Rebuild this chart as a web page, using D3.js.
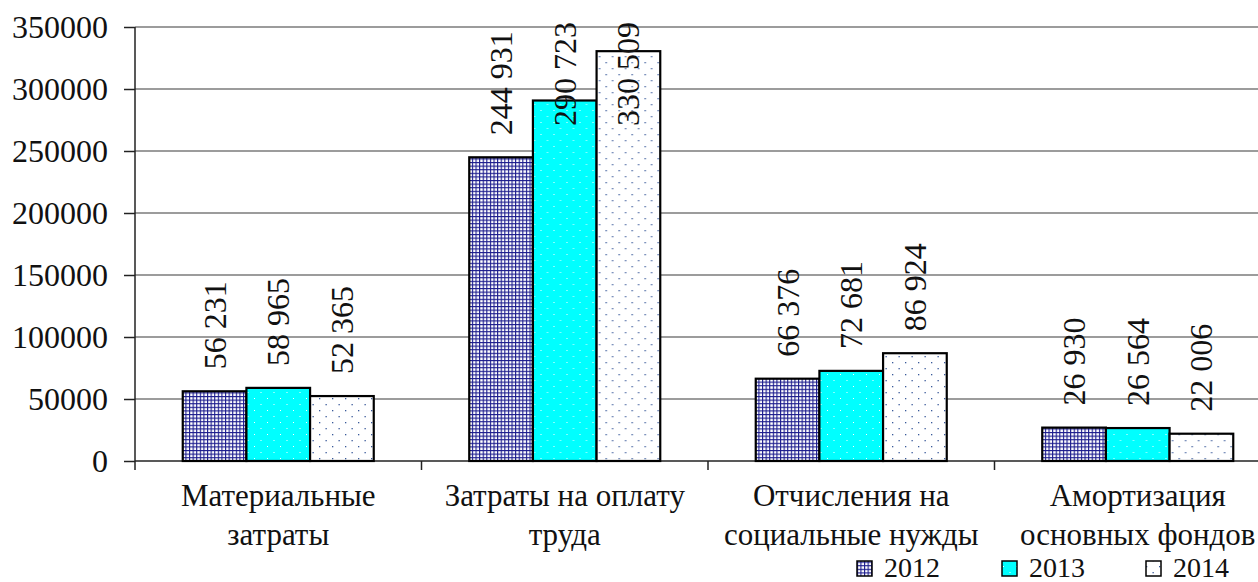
<!DOCTYPE html>
<html><head><meta charset="utf-8">
<script src="https://cdn.jsdelivr.net/npm/d3@7"></script>
<style>html,body{margin:0;padding:0;background:#fff;overflow:hidden}
svg text{font-family:"Liberation Serif","Times New Roman","DejaVu Serif",serif !important;}</style>
</head><body><svg id="c" width="1258" height="582"></svg>
<script>
const categories = [["Материальные","затраты"],["Затраты на оплату","труда"],["Отчисления на","социальные нужды"],["Амортизация","основных фондов"]];
const seriesNames = ["2012","2013","2014"];
const v2012 = [56231, 244931, 66376, 26930];
const v2013 = [58965, 290723, 72681, 26564];
const v2014 = [52365, 330509, 86924, 22006];
const yTicks = [0,50000,100000,150000,200000,250000,300000,350000];

const series = [v2012, v2013, v2014];
const svg = d3.select("#c");
const L = 135, T = 27, B = 461, R = 1281;

const defs = svg.append("defs");
const p1 = defs.append("pattern").attr("id","p2012").attr("patternUnits","userSpaceOnUse").attr("width",3.6).attr("height",3.6);
p1.append("rect").attr("width",3.6).attr("height",3.6).attr("fill","#fff");
p1.append("rect").attr("width",3.6).attr("height",1.1).attr("fill","#1a1a8c");
p1.append("rect").attr("width",1.1).attr("height",3.6).attr("fill","#1a1a8c");
const p2 = defs.append("pattern").attr("id","p2013").attr("patternUnits","userSpaceOnUse").attr("width",13).attr("height",12);
p2.append("rect").attr("width",13).attr("height",12).attr("fill","#00ffff");
p2.append("rect").attr("x",2).attr("y",2).attr("width",1).attr("height",1).attr("fill","#fff");
p2.append("rect").attr("x",8.5).attr("y",8).attr("width",1).attr("height",1).attr("fill","#fff");
const p3 = defs.append("pattern").attr("id","p2014").attr("patternUnits","userSpaceOnUse").attr("width",13).attr("height",12);
p3.append("rect").attr("width",13).attr("height",12).attr("fill","#fff");
p3.append("rect").attr("x",2).attr("y",2).attr("width",1.3).attr("height",1.3).attr("fill","#3a5a9a");
p3.append("rect").attr("x",8.5).attr("y",8).attr("width",1.3).attr("height",1.3).attr("fill","#3a5a9a");
const fills = ["url(#p2012)","url(#p2013)","url(#p2014)"];

const y = d3.scaleLinear().domain([0,350000]).range([B,T]);
const x0 = d3.scaleBand().domain(d3.range(categories.length)).range([L,R]);
const gap = (x0.bandwidth() - 191)/2;
const x1 = d3.scaleBand().domain(d3.range(seriesNames.length)).range([gap, x0.bandwidth()-gap]);

svg.append("g").selectAll("line").data(yTicks.filter(d=>d>0)).join("line")
  .attr("x1",L).attr("x2",R).attr("y1",d=>y(d)).attr("y2",d=>y(d))
  .attr("stroke","#3a3a3a").attr("stroke-width",1.2);

const ya = svg.append("g").attr("transform",`translate(${L},0)`)
  .call(d3.axisLeft(y).tickValues(yTicks).tickFormat(d3.format("d")).tickSize(11).tickPadding(16));
ya.attr("font-family",null).attr("font-size",null);
ya.select(".domain").attr("stroke","#222").attr("stroke-width",1.5).attr("d",`M0,${T}V${B+9}`);
ya.selectAll(".tick line").attr("stroke","#222").attr("stroke-width",1.5);
ya.selectAll("text").attr("font-size",32).attr("fill","#111").attr("dy","0.33em");

const xa = svg.append("g").attr("transform",`translate(0,${B})`);
xa.append("line").attr("x1",L).attr("x2",R).attr("stroke","#222").attr("stroke-width",1.5);
xa.selectAll(".xt").data(d3.range(1,categories.length)).join("line").attr("class","xt")
  .attr("x1",d=>x0(d)).attr("x2",d=>x0(d)).attr("y1",0).attr("y2",9).attr("stroke","#222").attr("stroke-width",1.5);

const groups = svg.append("g").selectAll("g").data(categories).join("g")
  .attr("transform",(d,i)=>`translate(${x0(i)},0)`);
groups.each(function(c,i){
  const g = d3.select(this);
  series.forEach((s,j)=>{
    g.append("rect").attr("x",x1(j)).attr("width",x1.bandwidth())
      .attr("y",y(s[i])).attr("height",B-y(s[i]))
      .attr("fill",fills[j]).attr("stroke","#000").attr("stroke-width",2.2);
  });
});

const fmt = v => d3.format(",")(v).replace(/,/g," ");
groups.each(function(c,i){
  const g = d3.select(this);
  series.forEach((s,j)=>{
    const cx = x1(j)+x1.bandwidth()/2;
    const t = g.append("text").attr("font-size",32).attr("fill","#111")
      .attr("dominant-baseline","central").text(fmt(s[i]));
    const len = t.node().getComputedTextLength();
    let yb = y(s[i]) - 22;
    if (yb - len < 22) yb = 22 + len;
    t.attr("transform",`translate(${cx},${yb}) rotate(-90)`);
  });
});

groups.each(function(c,i){
  const t = d3.select(this).append("text").attr("font-size",31).attr("fill","#111")
    .attr("text-anchor","middle");
  c.forEach((line,k)=>{
    t.append("tspan").attr("x",x0.bandwidth()/2).attr("y",506+k*39).text(line);
  });
});

const legX = [857,1002,1146];
const leg = svg.append("g");
seriesNames.forEach((n,j)=>{
  leg.append("rect").attr("x",legX[j]).attr("y",561).attr("width",15).attr("height",15)
    .attr("fill",fills[j]).attr("stroke","#000").attr("stroke-width",1.5);
  leg.append("text").attr("x",legX[j]+27).attr("y",577).attr("font-size",28)
    .attr("fill","#111").text(n);
});
</script></body></html>
